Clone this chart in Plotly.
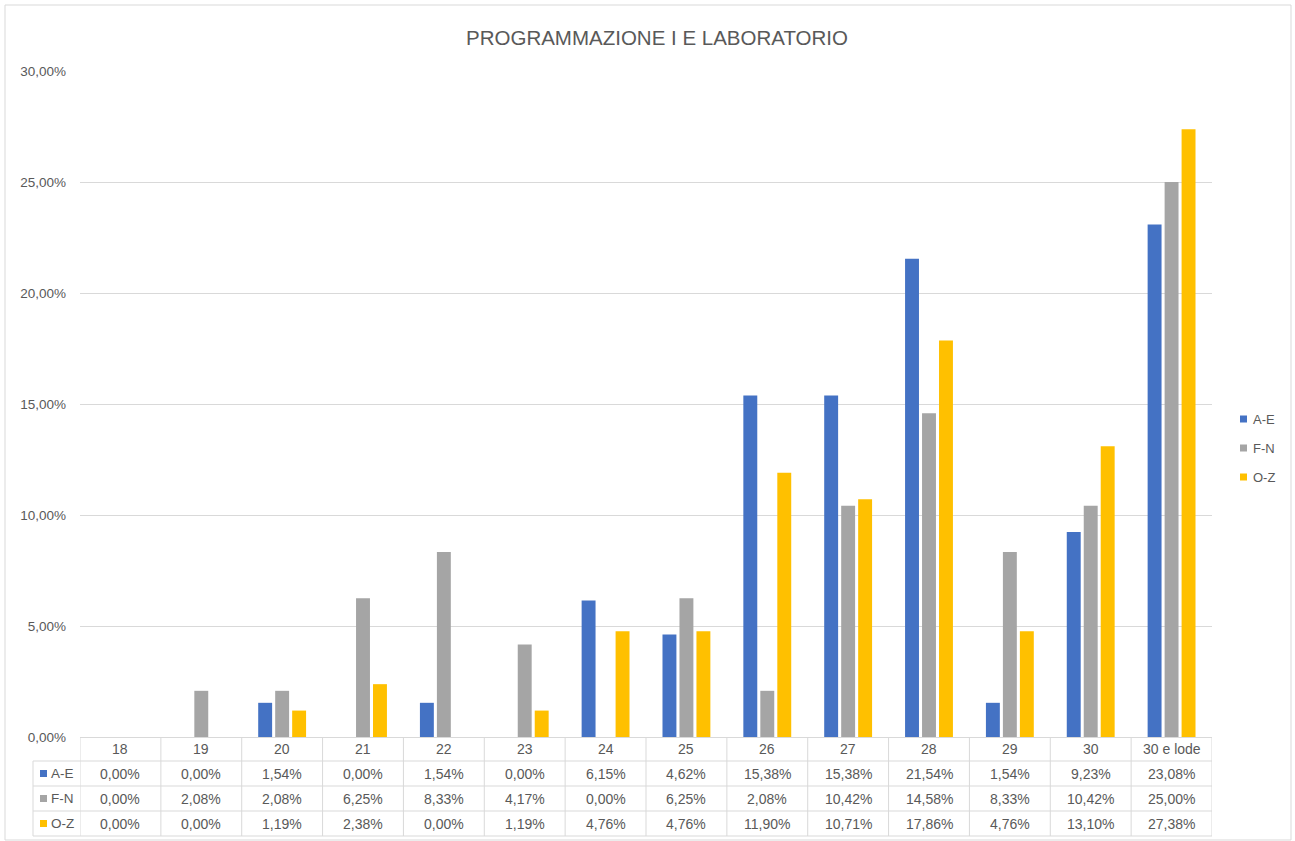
import plotly.graph_objects as go

categories = ["18", "19", "20", "21", "22", "23", "24", "25", "26", "27", "28", "29", "30", "30 e lode"]
series_names = ["A-E", "F-N", "O-Z"]
a_e = [0.00, 0.00, 1.54, 0.00, 1.54, 0.00, 6.15, 4.62, 15.38, 15.38, 21.54, 1.54, 9.23, 23.08]
f_n = [0.00, 2.08, 2.08, 6.25, 8.33, 4.17, 0.00, 6.25, 2.08, 10.42, 14.58, 8.33, 10.42, 25.00]
o_z = [0.00, 0.00, 1.19, 2.38, 0.00, 1.19, 4.76, 4.76, 11.90, 10.71, 17.86, 4.76, 13.10, 27.38]
y_ticks = [0, 5, 10, 15, 20, 25, 30]
title_text = "PROGRAMMAZIONE I E LABORATORIO"

colors = ["#4472C4", "#A5A5A5", "#FFC000"]
series = [a_e, f_n, o_z]

W, H = 1295, 841
L, R, T, B = 80, 83, 71, 104
PW = W - L - R
PH = H - T - B
FONT = "Liberation Sans"
TXT = "#595959"
GRID = "#D9D9D9"
TSIZE = 14


def px(x):
    return (x - L) / PW


def py(y):
    return (H - B - y) / PH


def fmt(v):
    return f"{v:.2f}".replace(".", ",") + "%"


fig = go.Figure()
for i, (name, vals) in enumerate(zip(series_names, series)):
    fig.add_trace(go.Bar(
        x=list(range(len(categories))), y=[v / 100 for v in vals], name=name,
        marker=dict(color=colors[i], line=dict(width=0)),
        hoverinfo="skip", showlegend=False,
    ))

shapes = []
annotations = []

# table grid
row_tops = [737, 761, 786, 811, 836]
table_left = 33
for k, yy in enumerate(row_tops):
    if k == 0:
        continue
    shapes.append(dict(type="line", xref="paper", yref="paper",
                       x0=px(table_left), x1=1,
                       y0=py(yy), y1=py(yy), line=dict(color=GRID, width=1)))
for i in range(len(categories) + 1):
    shapes.append(dict(type="line", xref="x", yref="paper",
                       x0=i - 0.5, x1=i - 0.5, y0=py(row_tops[0]), y1=py(row_tops[-1]),
                       line=dict(color=GRID, width=1)))
shapes.append(dict(type="line", xref="paper", yref="paper",
                   x0=px(table_left), x1=px(table_left), y0=py(row_tops[1]), y1=py(row_tops[-1]),
                   line=dict(color=GRID, width=1)))

# header labels
for i, c in enumerate(categories):
    annotations.append(dict(x=i, xref="x", y=py((row_tops[0] + row_tops[1]) / 2), yref="paper",
                            text=c, showarrow=False, font=dict(family=FONT, size=TSIZE, color=TXT),
                            xanchor="center", yanchor="middle"))
# data rows
for r, (name, vals) in enumerate(zip(series_names, series)):
    ymid = py((row_tops[r + 1] + row_tops[r + 2]) / 2)
    for i, v in enumerate(vals):
        annotations.append(dict(x=i, xref="x", y=ymid, yref="paper", text=fmt(v),
                                showarrow=False, font=dict(family=FONT, size=TSIZE, color=TXT),
                                xanchor="center", yanchor="middle"))
    shapes.append(dict(type="rect", xref="paper", yref="paper",
                       x0=px(40), x1=px(47), y0=ymid - 3.5 / PH, y1=ymid + 3.5 / PH,
                       fillcolor=colors[r], line=dict(width=0)))
    annotations.append(dict(x=px(49), xref="paper", y=ymid, yref="paper", text=name,
                            showarrow=False, font=dict(family=FONT, size=13.5, color=TXT),
                            xanchor="left", yanchor="middle"))

# legend (right side)
legend_y = [419, 448, 477]
for r, name in enumerate(series_names):
    ymid = py(legend_y[r])
    shapes.append(dict(type="rect", xref="paper", yref="paper",
                       x0=px(1240), x1=px(1247), y0=ymid - 3.5 / PH, y1=ymid + 3.5 / PH,
                       fillcolor=colors[r], line=dict(width=0)))
    annotations.append(dict(x=px(1251), xref="paper", y=ymid, yref="paper", text=name,
                            showarrow=False, font=dict(family=FONT, size=13, color=TXT),
                            xanchor="left", yanchor="middle"))

# chart border
shapes.append(dict(type="rect", xref="paper", yref="paper",
                   x0=px(5), x1=px(1291), y0=py(5), y1=py(840),
                   line=dict(color=GRID, width=1), fillcolor="rgba(0,0,0,0)"))

fig.update_layout(
    width=W, height=H,
    margin=dict(l=L, r=R, t=T, b=B, autoexpand=False),
    paper_bgcolor="white", plot_bgcolor="white",
    separators=",.",
    barmode="group", bargap=0.37, bargroupgap=0.18,
    title=dict(text=title_text, x=px(657), xref="paper", xanchor="center",
               y=1 - 38 / H, yanchor="middle",
               font=dict(family=FONT, size=20.5, color=TXT)),
    xaxis=dict(showticklabels=False, showgrid=False, zeroline=False,
               showline=True, linecolor=GRID, linewidth=1, ticks="",
               range=[-0.5, len(categories) - 0.5]),
    yaxis=dict(range=[0, 0.30], tickvals=[t / 100 for t in y_ticks], tickformat=".2%",
               showgrid=True, gridcolor=GRID, gridwidth=1, zeroline=False,
               tickfont=dict(family=FONT, size=13.5, color=TXT), ticks="", ticklen=0,
               ticklabelstandoff=13, showline=False),
    shapes=shapes, annotations=annotations,
    showlegend=False,
)

fig.write_html("out.html", config={"displayModeBar": False},
               post_script="document.body.style.margin='0px';")
